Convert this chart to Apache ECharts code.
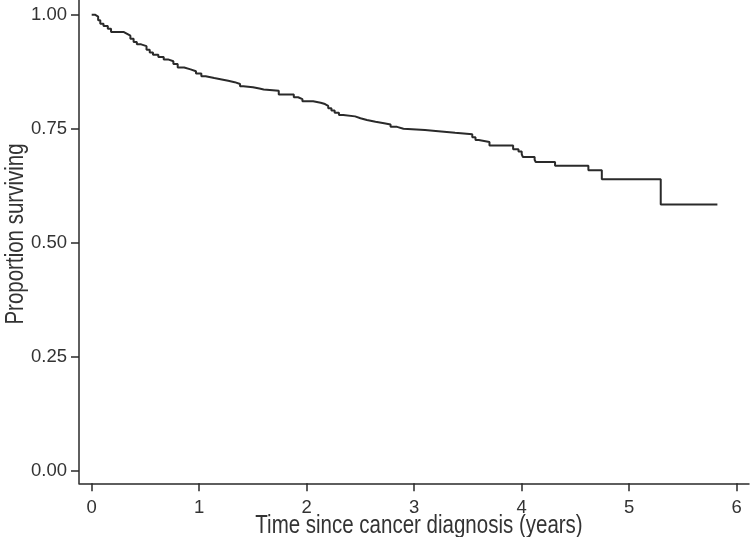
<!DOCTYPE html>
<html>
<head>
<meta charset="utf-8">
<script src="https://cdn.jsdelivr.net/npm/echarts@6/dist/echarts.min.js"></script>
<style>
html,body{margin:0;padding:0;background:#fff;}
#chart{width:750px;height:537px;}
</style>
</head>
<body>
<div id="chart"></div>
<script>
// Kaplan-Meier step points: time (years) and survival proportion after event
var times = [0, 0.03, 0.06, 0.08, 0.11, 0.15, 0.18, 0.30, 0.33, 0.36, 0.39, 0.42, 0.46, 0.51, 0.54, 0.57,
  0.62, 0.67, 0.71, 0.76, 0.80, 0.86, 0.92, 0.97, 1.02, 1.06, 1.14, 1.21, 1.27, 1.33, 1.38, 1.41,
  1.50, 1.56, 1.60, 1.74, 1.88, 1.92, 1.96, 2.06, 2.13, 2.17, 2.20, 2.23, 2.26, 2.30, 2.34, 2.45,
  2.50, 2.56, 2.64, 2.72, 2.78, 2.84, 2.90, 3.10, 3.20, 3.38, 3.54, 3.57, 3.60, 3.70, 3.92, 3.97,
  4.00, 4.01, 4.12, 4.13, 4.31, 4.62, 4.745, 5.293, 5.82];
var survival = [1.000, 0.996, 0.988, 0.980, 0.975, 0.969, 0.962, 0.958, 0.954, 0.947, 0.940, 0.935, 0.931, 0.923, 0.917, 0.912,
  0.907, 0.902, 0.898, 0.892, 0.884, 0.880, 0.876, 0.871, 0.865, 0.861, 0.858, 0.855, 0.852, 0.848, 0.843, 0.841,
  0.838, 0.836, 0.833, 0.825, 0.819, 0.815, 0.810, 0.807, 0.804, 0.800, 0.795, 0.790, 0.785, 0.780, 0.777, 0.773,
  0.769, 0.765, 0.762, 0.759, 0.754, 0.750, 0.747, 0.745, 0.741, 0.738, 0.731, 0.725, 0.721, 0.713, 0.705, 0.700,
  0.694, 0.688, 0.682, 0.677, 0.669, 0.659, 0.639, 0.584, 0.584];
var xTicks = [0, 1, 2, 3, 4, 5, 6];
var yTicks = [0, 0.25, 0.5, 0.75, 1];
var xTitle = 'Time since cancer diagnosis (years)';
var yTitle = 'Proportion surviving';

var data = times.map(function (t, i) { return [t, survival[i]]; });

var labelFont = "'Liberation Sans', Arial, sans-serif";
var titleFont = "'Liberation Sans', Arial, sans-serif";
var textColor = '#333333';
var lineColor = '#2a2a2a';

var chart = echarts.init(document.getElementById('chart'), null, {renderer: 'canvas'});
chart.setOption({
  animation: false,
  backgroundColor: '#ffffff',
  grid: {left: 79, right: 1, top: 0, bottom: 53.7, containLabel: false, outerBoundsMode: 'none'},
  xAxis: {
    type: 'value',
    min: -0.118,
    max: 6.114,
    axisLine: {show: true, onZero: false, lineStyle: {color: lineColor, width: 1.5}},
    axisTick: {show: true, length: 8, inside: false, customValues: xTicks, lineStyle: {color: lineColor, width: 1.5}},
    axisLabel: {show: true, customValues: xTicks, margin: 15, fontFamily: labelFont, fontSize: 18.5, color: textColor,
      formatter: function (v) { return String(Math.round(v)); }},
    splitLine: {show: false}
  },
  yAxis: {
    type: 'value',
    min: -0.0276,
    max: 1.0322,
    axisLine: {show: true, onZero: false, lineStyle: {color: lineColor, width: 1.5}},
    axisTick: {show: true, length: 8, inside: false, customValues: yTicks, lineStyle: {color: lineColor, width: 1.5}},
    axisLabel: {show: true, customValues: yTicks, margin: 12, fontFamily: labelFont, fontSize: 18.5, color: textColor,
      formatter: function (v) { return v.toFixed(2); }},
    splitLine: {show: false}
  },
  graphic: [
    {type: 'text', x: 419, y: 526, scaleX: 0.82,
      style: {text: xTitle, fontFamily: titleFont, fontSize: 25, fill: textColor, align: 'center', verticalAlign: 'middle'}},
    {type: 'text', x: 16.5, y: 234, rotation: Math.PI / 2, scaleX: 0.82,
      style: {text: yTitle, fontFamily: titleFont, fontSize: 25, fill: textColor, align: 'center', verticalAlign: 'middle'}}
  ],
  series: [{
    type: 'line',
    step: 'end',
    data: data,
    showSymbol: false,
    symbol: 'none',
    lineStyle: {color: lineColor, width: 2},
    clip: true
  }]
});
</script>
</body>
</html>
